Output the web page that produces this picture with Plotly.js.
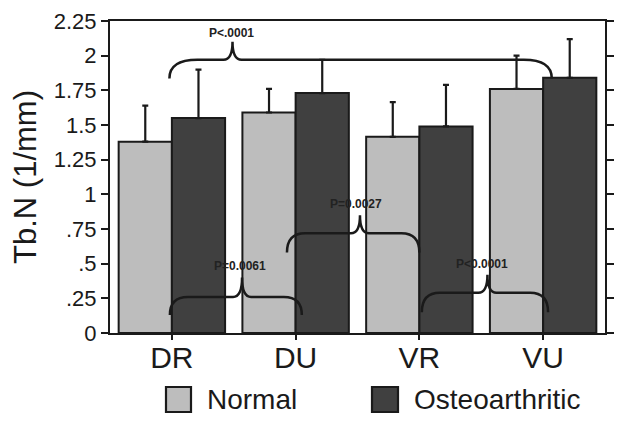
<!DOCTYPE html>
<html>
<head>
<meta charset="utf-8">
<script src="https://cdn.plot.ly/plotly-3.0.1.min.js"></script>
<style>html,body{margin:0;padding:0;background:#fff;}#chart{width:622px;height:423px;}</style>
</head>
<body>
<div id="chart"></div>
<script>
// ---- data ----
const categories = ['DR', 'DU', 'VR', 'VU'];
const seriesNames = ['Normal', 'Osteoarthritic'];
const normalMean = [1.38, 1.59, 1.415, 1.76];
const normalErr  = [0.26, 0.17, 0.25, 0.24];
const oaMean     = [1.55, 1.73, 1.49, 1.84];
const oaErr      = [0.35, 0.24, 0.30, 0.28];
const yTickVals  = [0, 0.25, 0.5, 0.75, 1, 1.25, 1.5, 1.75, 2, 2.25];
const yTickText  = ['0', '.25', '.5', '.75', '1', '1.25', '1.5', '1.75', '2', '2.25'];
const pLabels    = ['P<.0001', 'P=0.0061', 'P=0.0027', 'P<0.0001'];

// ---- layout geometry ----
const W = 622, H = 423;
const M = {l: 110, r: 17, t: 21, b: 90};
const xRange = [-0.5, categories.length - 0.5];
const yRange = [0, 2.25];
const kx = (W - M.l - M.r) / (xRange[1] - xRange[0]); // px per x unit
const ky = (H - M.t - M.b) / (yRange[1] - yRange[0]); // px per y unit
const ink = '#1a1a1a';
const fillN = '#bdbdbd', fillOA = '#404040';

// bracket specs (data units): x1,x2 ends, xm peak, yEnd, yH, yPeak, label pos
const brackets = [
  {x1: -0.02, x2: 3.07, xm: 0.49, yEnd: 1.835, yH: 1.97, yPeak: 2.10, lx: 0.48, ly: 2.165, r: 28},
  {x1: -0.016, x2: 1.05, xm: 0.567, yEnd: 0.13, yH: 0.26, yPeak: 0.40, lx: 0.55, ly: 0.48, r: 18},
  {x1: 0.93, x2: 2.0, xm: 1.52, yEnd: 0.58, yH: 0.72, yPeak: 0.85, lx: 1.49, ly: 0.93, r: 18},
  {x1: 2.02, x2: 3.04, xm: 2.55, yEnd: 0.15, yH: 0.29, yPeak: 0.42, lx: 2.51, ly: 0.50, r: 18}
];

function bracePath(b) {
  const rx = b.r / kx, cx = 9 / kx;
  return 'M' + b.x1 + ',' + b.yEnd +
    ' Q' + b.x1 + ',' + b.yH + ' ' + (b.x1 + rx) + ',' + b.yH +
    ' L' + (b.xm - cx) + ',' + b.yH +
    ' Q' + b.xm + ',' + b.yH + ' ' + b.xm + ',' + b.yPeak +
    ' Q' + b.xm + ',' + b.yH + ' ' + (b.xm + cx) + ',' + b.yH +
    ' L' + (b.x2 - rx) + ',' + b.yH +
    ' Q' + b.x2 + ',' + b.yH + ' ' + b.x2 + ',' + b.yEnd;
}

const xIdx = categories.map((c, i) => i);
const font = 'Liberation Sans, Arial, Helvetica, sans-serif';

const mkErr = arr => ({type: 'data', symmetric: false, array: arr, arrayminus: arr.map(() => 0),
  color: ink, thickness: 2.2, width: 3});

const traces = [
  {type: 'bar', name: seriesNames[0], x: xIdx, y: normalMean, error_y: mkErr(normalErr),
   marker: {color: fillN, line: {color: ink, width: 2}}},
  {type: 'bar', name: seriesNames[1], x: xIdx, y: oaMean, error_y: mkErr(oaErr),
   marker: {color: fillOA, line: {color: ink, width: 2}}}
];

const shapes = brackets.map(b => ({type: 'path', xref: 'x', yref: 'y', path: bracePath(b),
  line: {color: ink, width: 2.5}, layer: 'above'}));

const annotations = brackets.map((b, i) => ({xref: 'x', yref: 'y', x: b.lx, y: b.ly,
  text: '<b>' + pLabels[i] + '</b>', showarrow: false, xanchor: 'center', yanchor: 'middle',
  font: {family: font, size: 12, color: '#222'}}));

// custom legend (large swatches)
const pxX = px => (px - M.l) / (W - M.l - M.r);
const pxY = py => (H - M.b - py) / (H - M.t - M.b);
const legendItems = [
  {box: [166, 191], tx: 205, fill: fillN},
  {box: [372, 398], tx: 412, fill: fillOA}
];
legendItems.forEach((it, i) => {
  shapes.push({type: 'rect', xref: 'paper', yref: 'paper', x0: pxX(it.box[0]), x1: pxX(it.box[1]),
    y0: pxY(387), y1: pxY(412), fillcolor: it.fill, line: {color: ink, width: 2.2}});
  annotations.push({xref: 'paper', yref: 'paper', x: pxX(it.tx), y: pxY(400), xanchor: 'left',
    yanchor: 'middle', text: seriesNames[i], showarrow: false,
    font: {family: font, size: 28, color: ink}});
});

const layout = {
  width: W, height: H, margin: M, paper_bgcolor: '#fff', plot_bgcolor: '#fff',
  showlegend: false, barmode: 'group', bargap: 0.14, bargroupgap: 0,
  font: {family: font, color: ink},
  xaxis: {range: xRange, tickvals: xIdx, ticktext: categories, showgrid: false, zeroline: false,
    showline: true, linecolor: ink, linewidth: 2, mirror: true, ticks: 'outside', ticklen: 5,
    tickwidth: 2, tickcolor: ink, tickfont: {family: font, size: 30, color: ink},
    ticklabelstandoff: -8, fixedrange: true},
  yaxis: {range: yRange, tickvals: yTickVals, ticktext: yTickText, showgrid: false, zeroline: false,
    showline: true, linecolor: ink, linewidth: 2, mirror: 'ticks', ticks: 'outside', ticklen: 7,
    tickwidth: 2, tickcolor: ink, tickfont: {family: font, size: 22, color: ink},
    title: {text: 'Tb.N (1/mm)', font: {family: font, size: 31, color: ink}, standoff: 8}},
  shapes: shapes, annotations: annotations
};

Plotly.newPlot('chart', traces, layout, {staticPlot: true, displayModeBar: false});
</script>
</body>
</html>
